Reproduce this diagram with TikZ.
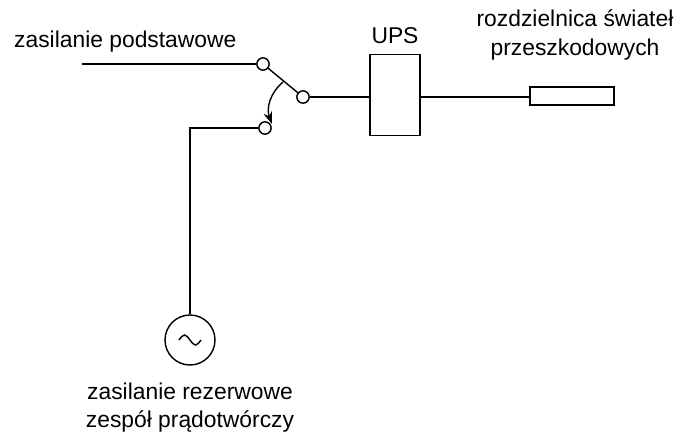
\documentclass[tikz,border=0pt]{standalone}
\usepackage{fontspec}
\setmainfont{Liberation Sans}
\usetikzlibrary{arrows.meta, positioning}
\begin{document}
\begin{tikzpicture}[
      x=0.02cm, y=-0.02cm,
      wire/.style = {line width=0.8pt},
      cont/.style = {circle, draw, line width=0.8pt, fill=white, inner sep=0pt, minimum size=7pt},
      lbl/.style  = {font=\fontsize{13}{16}\selectfont, align=center},
      arr/.style  = {-{Stealth[length=7pt, width=5pt]}, line width=0.8pt}
    ]
    \useasboundingbox (0,0) rectangle (700,444);

    % ---- switch contacts ----
    \node[cont] (top)   at (263,64)  {};
    \node[cont] (pivot) at (303,97)  {};
    \node[cont] (low)   at (265,128) {};
    \coordinate (inA) at (82,64);
    \coordinate (inB) at (190,128);

    % ---- UPS and distribution board ----
    \node[draw, line width=0.8pt, inner sep=0pt, minimum width=1cm, minimum height=1.62cm] (ups) at (395,95) {};
    \node[draw, line width=0.8pt, inner sep=0pt, minimum width=1.68cm, minimum height=0.36cm] (board) at (572,96) {};

    % ---- generator ----
    \node[circle, draw, line width=0.8pt, minimum size=1cm, inner sep=0pt] (gen) at (190,340) {};
    \draw[wire] (gen.center) ++(-11,0) sin ++(5.5,-5) cos ++(5.5,5) sin ++(5.5,5) cos ++(5.5,-5);

    % ---- wires ----
    \draw[wire] (inA) -- (top);
    \draw[wire] (top) -- (pivot);
    \draw[wire] (gen) -- (inB) -- (low);
    \draw[wire] (pivot) -- (ups.west |- pivot);
    \draw[wire] (ups.east |- pivot) -- (board.west |- pivot);
    \draw[arr] (283,82) to[bend right=35] (272,124);

    % ---- labels ----
    \node[lbl, above=2pt of ups] {UPS};
    \node[lbl, anchor=south west] at (8,58) {zasilanie podstawowe};
    \node[lbl] at (575,35) {rozdzielnica świateł\\przeszkodowych};
    \node[lbl, below=6pt of gen] {zasilanie rezerwowe\\zespół prądotwórczy};
\end{tikzpicture}
\end{document}
